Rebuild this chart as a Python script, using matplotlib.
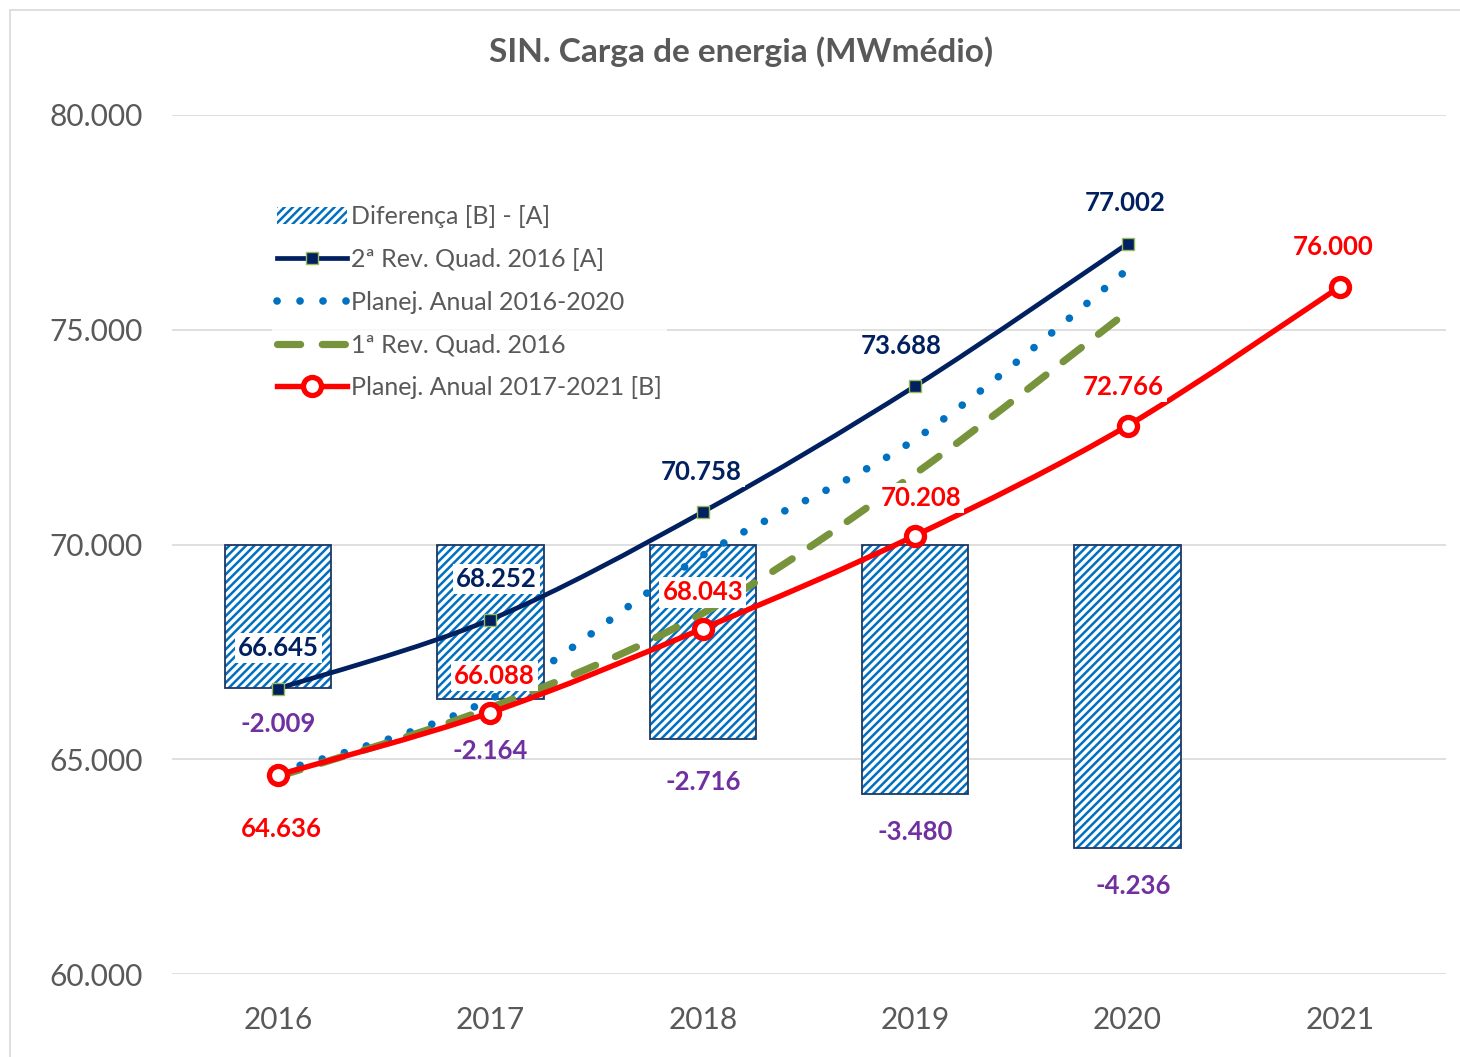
# SIN - carga de energia
# plot.py

import matplotlib
matplotlib.use("Agg")
import matplotlib.pyplot as plt
from matplotlib.path import Path
from matplotlib.patches import PathPatch, Rectangle, Patch
from matplotlib.lines import Line2D
from matplotlib.ticker import FuncFormatter

plt.rcParams["font.family"] = ["Lato", "DejaVu Sans"]
plt.rcParams["hatch.linewidth"] = 1.8

# data
years = ["2016", "2017", "2018", "2019", "2020", "2021"]
rev2_2016 = [66645, 68252, 70758, 73688, 77002]          # [A]
planej_2016_2020 = [64700, 66400, 69750, 72450, 76400]
rev1_2016 = [64600, 66200, 68400, 71650, 75420]
planej_2017_2021 = [64636, 66088, 68043, 70208, 72766, 76000]  # [B]
diferenca = [-2009, -2164, -2716, -3480, -4236]

NAVY = "#002060"
RED = "#FF0000"
BLUE = "#0070C0"
GREEN = "#77933C"
PURPLE = "#7030A0"
GRAY = "#595959"


def br(v):
    # 70758 -> 70.758
    s = f"{abs(v):,.0f}".replace(",", ".")
    return ("-" if v < 0 else "") + s


def smooth_path(xs, ys):
    """Excel-like smoothed line as cubic bezier through the points."""
    pts = list(zip(xs, ys))
    verts = [pts[0]]
    codes = [Path.MOVETO]
    n = len(pts)
    for i in range(n - 1):
        p0 = pts[i - 1] if i > 0 else pts[i]
        p1 = pts[i]
        p2 = pts[i + 1]
        p3 = pts[i + 2] if i + 2 < n else pts[i + 1]
        c1 = (p1[0] + (p2[0] - p0[0]) / 6, p1[1] + (p2[1] - p0[1]) / 6)
        c2 = (p2[0] - (p3[0] - p1[0]) / 6, p2[1] - (p3[1] - p1[1]) / 6)
        verts += [c1, c2, p2]
        codes += [Path.CURVE4] * 3
    return Path(verts, codes)


fig = plt.figure(figsize=(14.6, 10.57), dpi=100)

# chart border
fig.patches.append(Rectangle((10 / 1460, -0.05), 1.2, 1 - 10 / 1057 + 0.05,
                             transform=fig.transFigure, fill=False,
                             edgecolor="#D9D9D9", lw=1.2))

pos = [172 / 1460, 1 - 974 / 1057, (1446 - 172) / 1460, (974 - 115) / 1057]

# bars on secondary scale (hidden), drawn behind
axd = fig.add_axes(pos)
ax = axd.twinx()
axd.set_zorder(1)
ax.set_zorder(2)
ax.patch.set_visible(False)

x5 = list(range(len(diferenca)))
x6 = list(range(len(years)))

axd.set_ylim(-6000, 6000)
axd.set_xlim(-0.5, 5.5)
axd.set_yticks([-6000, -3000, 0, 3000, 6000])
axd.set_xticks(x6)
axd.set_xticklabels(years)
axd.grid(axis="y", color="#D9D9D9", lw=1.2)
axd.tick_params(left=False, labelleft=False)
axd.tick_params(axis="x", length=0, labelsize=21.5, colors=GRAY, pad=23)
for s in axd.spines.values():
    s.set_visible(False)
axd.bar(x5, diferenca, width=0.5, color="white", edgecolor=BLUE, lw=0,
        hatch="////", zorder=2)
axd.bar(x5, diferenca, width=0.5, fill=False, edgecolor="#1F3864", lw=1.3,
        zorder=3)
dif_dy = [-26, -37, -31, -27.5, -27.5]
dif_dx = [0, 0, 0, 0, 4]
for xi, d, dy, dx in zip(x5, diferenca, dif_dy, dif_dx):
    axd.annotate(br(d), (xi, d), xytext=(dx, dy), textcoords="offset points",
                 ha="center", va="center", color=PURPLE, fontsize=18.5,
                 fontweight="bold")

# lines
ax.set_ylim(60000, 80000)
ax.yaxis.tick_left()
ax.set_yticks([60000, 65000, 70000, 75000, 80000])
ax.yaxis.set_major_formatter(FuncFormatter(lambda v, p: br(v)))
ax.tick_params(axis="y", length=0, labelsize=21.5, colors=GRAY, pad=21)
for s in ax.spines.values():
    s.set_visible(False)

ax.add_patch(PathPatch(smooth_path(x5, rev2_2016), fill=False,
                       edgecolor=NAVY, lw=3.4, zorder=3))
ax.add_patch(PathPatch(smooth_path(x5, planej_2016_2020), fill=False,
                       edgecolor=BLUE, lw=5.5, linestyle=(0, (0.01, 3.0)),
                       capstyle="round", zorder=3))
ax.add_patch(PathPatch(smooth_path(x5, rev1_2016), fill=False,
                       edgecolor=GREEN, lw=5.2, linestyle=(0, (3.2, 3.0)),
                       capstyle="round", zorder=3))
ax.add_patch(PathPatch(smooth_path(x6, planej_2017_2021), fill=False,
                       edgecolor=RED, lw=3.9, zorder=4))

ax.plot(x5, rev2_2016, ls="none", marker="s", ms=9, mfc=NAVY,
        mec="#9BBB59", mew=1, zorder=5)
ax.plot(x6, planej_2017_2021, ls="none", marker="o", ms=13, mfc="white",
        mec=RED, mew=3.8, zorder=5)

box = dict(boxstyle="square,pad=0.12", fc="white", ec="none")
navy_dx = [0, 4, -1, -10, -2]
for xi, v, dx in zip(x5, rev2_2016, navy_dx):
    ax.annotate(br(v), (xi, v), xytext=(dx, 29), textcoords="offset points",
                ha="center", va="center", color=NAVY, fontsize=18.5,
                fontweight="bold", bbox=box, zorder=6)
red_off = [-39, 26, 26, 27, 28, 29]
red_dx = [2, 3, 0, 4, -3, -5]
for xi, v, dy, dx in zip(x6, planej_2017_2021, red_off, red_dx):
    ax.annotate(br(v), (xi, v), xytext=(dx, dy), textcoords="offset points",
                ha="center", va="center", color=RED, fontsize=18.5,
                fontweight="bold", bbox=box, zorder=6)

# legend
handles = [
    Patch(facecolor="white", edgecolor=BLUE, hatch="////", lw=0),
    Line2D([], [], color=NAVY, lw=3.4, marker="s", ms=9, mfc=NAVY,
           mec="#9BBB59", mew=1),
    Line2D([], [], color=BLUE, lw=5.5, ls=(0, (0.01, 3.0)),
           solid_capstyle="round", dash_capstyle="round"),
    Line2D([], [], color=GREEN, lw=5.2, ls=(0, (3.2, 3.0)),
           dash_capstyle="round"),
    Line2D([], [], color=RED, lw=3.9, marker="o", ms=13, mfc="white",
           mec=RED, mew=3.8),
]
labels = ["Diferença [B] - [A]", "2ª Rev. Quad. 2016 [A]",
          "Planej. Anual 2016-2020", "1ª Rev. Quad. 2016",
          "Planej. Anual 2017-2021 [B]"]
leg = ax.legend(handles, labels, loc="upper left",
                bbox_to_anchor=(272 / 1460, 1 - 200 / 1057),
                bbox_transform=fig.transFigure, frameon=True, fontsize=18,
                labelcolor=GRAY, handlelength=2.8, handletextpad=0.15,
                labelspacing=0.79, borderpad=0.2, borderaxespad=0)
leg.get_frame().set_facecolor("white")
leg.get_frame().set_edgecolor("none")
leg.set_zorder(7)

fig.text(741 / 1460, 1 - 52 / 1057, "SIN. Carga de energia (MWmédio)",
         ha="center", va="center", fontsize=24, fontweight="bold", color=GRAY)

fig.savefig("out.png", dpi=100)
